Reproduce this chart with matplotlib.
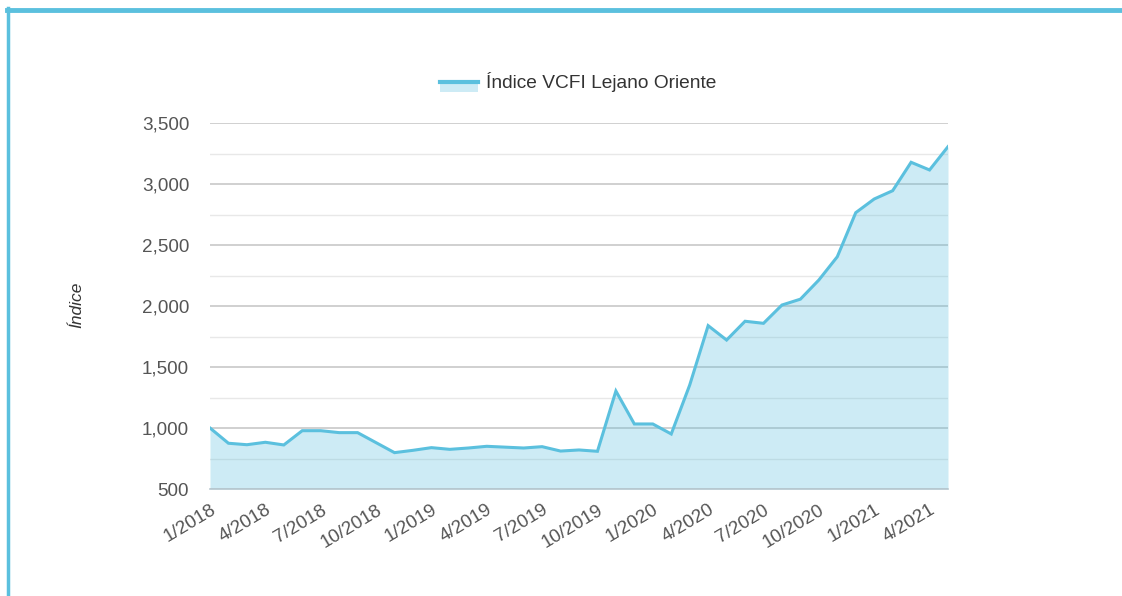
import matplotlib
matplotlib.use("Agg")
import matplotlib.pyplot as plt
from matplotlib.patches import Rectangle
from matplotlib.lines import Line2D

# ---- data ----
months = [f"{m}/{y}" for y in (2018, 2019, 2020, 2021) for m in range(1, 13)][:41]
values = [1000, 875, 863, 883, 861, 978, 978, 962, 962, 880,
          798, 817, 839, 825, 836, 850, 843, 836, 847, 811,
          820, 809, 1303, 1033, 1033, 951, 1352, 1839, 1721, 1875,
          1858, 2008, 2056, 2213, 2404, 2765, 2877, 2945, 3178, 3115,
          3306]
series_name = "Índice VCFI Lejano Oriente"
y_label = "Índice"
y_major = [500, 1000, 1500, 2000, 2500, 3000, 3500]
y_minor = [750, 1250, 1750, 2250, 2750, 3250]

LINE = "#5bc0de"
FILL = "#5bc0de"
TXT = "#555555"
FONT = "Liberation Sans"

W, H = 1122, 596
fig = plt.figure(figsize=(W / 100, H / 100), dpi=100)
ax = fig.add_axes([210 / W, 1 - 489 / H, 738 / W, 366 / H])

x = list(range(len(values)))
ax.fill_between(x, 500, values, color=FILL, alpha=0.3, linewidth=0, zorder=2)
ax.plot(x, values, color=LINE, linewidth=2.2, zorder=3, solid_joinstyle="miter")

ax.set_xlim(0, len(values) - 1)
ax.set_ylim(500, 3500)
ax.set_yticks(y_major)
ax.set_yticklabels([f"{v:,}" for v in y_major], fontfamily=FONT, fontsize=13.6, color=TXT)
ax.set_yticks(y_minor, minor=True)
ax.grid(axis="y", which="major", color="#c8c8c8", linewidth=1.2, zorder=1)
ax.grid(axis="y", which="minor", color="#e8e8e8", linewidth=1.0, zorder=1)
ax.tick_params(axis="y", which="both", length=0, pad=15)

tick_idx = list(range(0, len(values), 3))
ax.set_xticks(tick_idx)
ax.set_xticklabels([months[i] for i in tick_idx], rotation=31, ha="right",
                   rotation_mode="anchor", fontfamily=FONT, fontsize=13.6, color=TXT)
ax.tick_params(axis="x", length=0, pad=9)

for s in ("top", "right", "left"):
    ax.spines[s].set_visible(False)
ax.spines["bottom"].set_color("#b8c8d0")
ax.spines["bottom"].set_linewidth(1.2)
ax.spines["bottom"].set_zorder(4)

fig.text(77 / W, 1 - 305 / H, y_label, rotation=90, ha="center", va="center",
         fontstyle="italic", fontfamily=FONT, fontsize=12.5, color="#333333")

# legend (manual)
fig.patches.append(Rectangle((440 / W, 1 - 92 / H), 38 / W, 12 / H,
                             transform=fig.transFigure, facecolor=FILL, alpha=0.3,
                             edgecolor="none"))
fig.lines.append(Line2D([440 / W, 478 / W], [1 - 81.5 / H, 1 - 81.5 / H],
                        transform=fig.transFigure, color=LINE, linewidth=3))
fig.text(486 / W, 1 - 82 / H, series_name, ha="left", va="center",
         fontfamily=FONT, fontsize=13.8, color="#333333")

# frame border (left and top)
fig.lines.append(Line2D([8 / W, 8 / W], [0, 1 - 8 / H], transform=fig.transFigure,
                        color=LINE, linewidth=2.5))
fig.lines.append(Line2D([7 / W, 1], [1 - 10 / H, 1 - 10 / H], transform=fig.transFigure,
                        color=LINE, linewidth=3.5))

fig.savefig("out.png", dpi=100)
